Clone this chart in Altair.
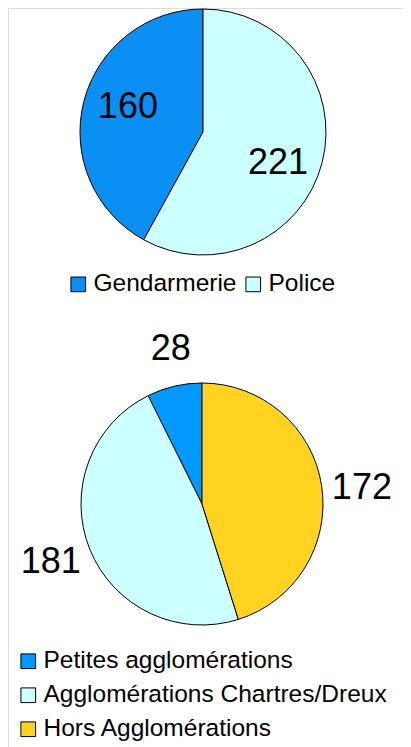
import altair as alt
import pandas as pd

FONT = "Liberation Sans"

# Top pie
cats1 = ["Gendarmerie", "Police"]
vals1 = [160, 221]
order1 = [2, 1]          # Police drawn first from 12 o'clock
colors1 = ["#0A8FF5", "#CCFFFF"]

# Bottom pie
cats2 = ["Petites agglomérations", "Agglomérations Chartres/Dreux", "Hors Agglomérations"]
vals2 = [28, 181, 172]
order2 = [3, 2, 1]       # Hors first, then Chartres/Dreux, then Petites
colors2 = ["#0099FF", "#CCFFFF", "#FFD320"]

df1 = pd.DataFrame({"cat1": cats1, "v": vals1, "ord": order1})
df2 = pd.DataFrame({"cat2": cats2, "v": vals2, "ord": order2})

legend_common = dict(
    orient="none", title=None, symbolType="square", symbolSize=215,
    symbolStrokeColor="black", symbolStrokeWidth=1, labelFont=FONT,
    labelFontSize=24.5, labelColor="black", labelLimit=400, labelOffset=3,
)

c1 = dict(x=alt.value(195), y=alt.value(124))
c2 = dict(x=alt.value(194), y=alt.value(496))

pie1 = alt.Chart(df1).mark_arc(outerRadius=123, stroke="black", strokeWidth=1).encode(
    theta=alt.Theta("v:Q", stack=True),
    order=alt.Order("ord:Q"),
    color=alt.Color("cat1:N", scale=alt.Scale(domain=cats1, range=colors1),
                    legend=alt.Legend(direction="horizontal", legendX=58, legendY=264,
                                      columnPadding=4, **legend_common)),
    **c1,
)
txt1 = alt.Chart(df1).mark_text(radius=80, thetaOffset=0.1, dy=3, font=FONT, fontSize=36,
                                color="black").encode(
    theta=alt.Theta("v:Q", stack=True),
    order=alt.Order("ord:Q"),
    text="v:Q",
    **c1,
)

pie2 = alt.Chart(df2).mark_arc(outerRadius=121, stroke="black", strokeWidth=1).encode(
    theta=alt.Theta("v:Q", stack=True),
    order=alt.Order("ord:Q"),
    color=alt.Color("cat2:N", scale=alt.Scale(domain=cats2, range=colors2),
                    legend=alt.Legend(direction="vertical", legendX=8, legendY=641,
                                      rowPadding=9, **legend_common)),
    **c2,
)
txt2 = alt.Chart(df2).mark_text(radius=161, thetaOffset=0.035, dy=3, font=FONT, fontSize=36,
                                color="black").encode(
    theta=alt.Theta("v:Q", stack=True),
    order=alt.Order("ord:Q"),
    text="v:Q",
    **c2,
)

chart = alt.layer(pie1, txt1, pie2, txt2).resolve_scale(
    color="independent", theta="independent"
).properties(
    width=395, height=739, padding=0, autosize=alt.AutoSizeParams(type="none")
).configure_view(stroke=None).configure(background="white")

chart.save("out.html", embed_options={"renderer": "svg", "actions": False})
